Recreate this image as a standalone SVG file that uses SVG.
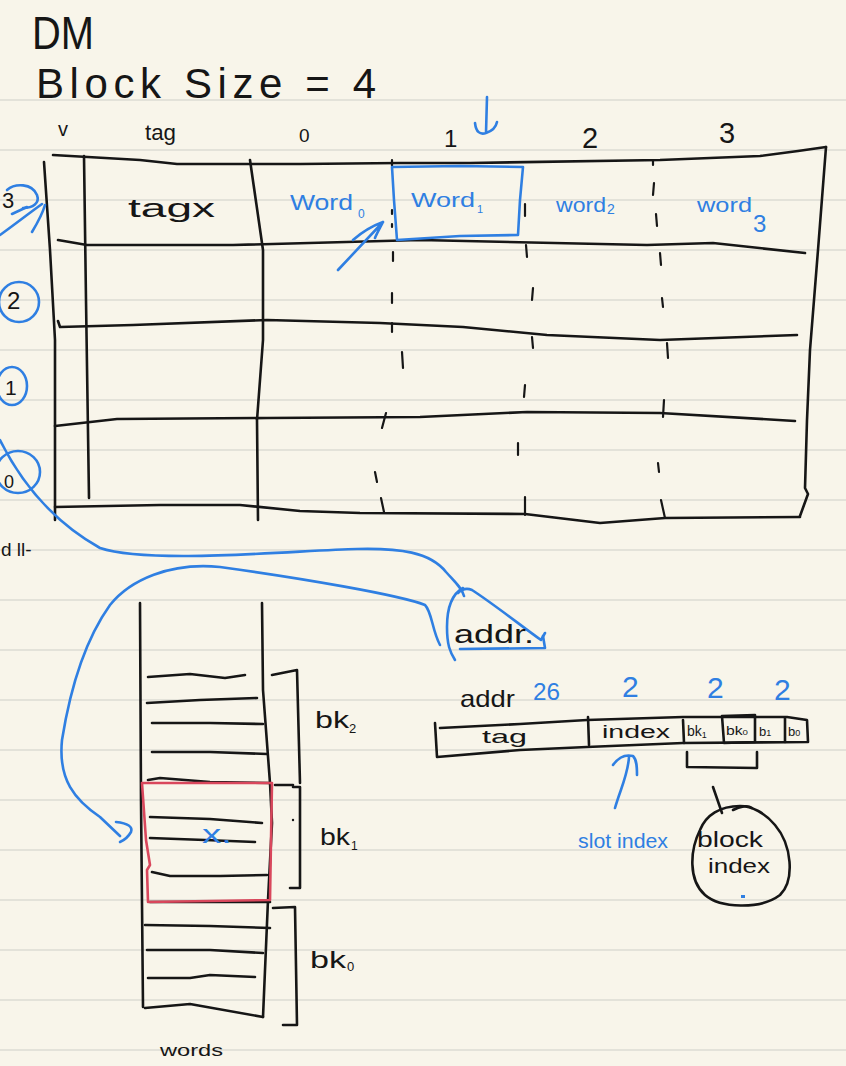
<svg xmlns="http://www.w3.org/2000/svg" width="846" height="1066" viewBox="0 0 846 1066">
<style>
.ink{fill:none;stroke:#161616;stroke-width:2.6;stroke-linecap:round;stroke-linejoin:round}
.thin{fill:none;stroke:#161616;stroke-width:2.2;stroke-linecap:round;stroke-linejoin:round}
.blue{fill:none;stroke:#2f7fe2;stroke-width:2.6;stroke-linecap:round;stroke-linejoin:round}
.red{fill:none;stroke:#d9475c;stroke-width:2.6;stroke-linecap:round;stroke-linejoin:round}
.rule{stroke:#dddbd3;stroke-width:1.5}
.t{font-family:"Liberation Sans","DejaVu Sans",sans-serif;fill:#161616}
.tb{font-family:"Liberation Sans","DejaVu Sans",sans-serif;fill:#2f7fe2}
</style>
<rect width="846" height="1066" fill="#f8f5ea"/>
<g id="rules">
<line class="rule" x1="0" y1="100" x2="846" y2="100"/><line class="rule" x1="0" y1="150" x2="846" y2="150"/>
<line class="rule" x1="0" y1="200" x2="846" y2="200"/><line class="rule" x1="0" y1="250" x2="846" y2="250"/>
<line class="rule" x1="0" y1="300" x2="846" y2="300"/><line class="rule" x1="0" y1="350" x2="846" y2="350"/>
<line class="rule" x1="0" y1="400" x2="846" y2="400"/><line class="rule" x1="0" y1="450" x2="846" y2="450"/>
<line class="rule" x1="0" y1="500" x2="846" y2="500"/><line class="rule" x1="0" y1="550" x2="846" y2="550"/>
<line class="rule" x1="0" y1="600" x2="846" y2="600"/><line class="rule" x1="0" y1="650" x2="846" y2="650"/>
<line class="rule" x1="0" y1="700" x2="846" y2="700"/><line class="rule" x1="0" y1="750" x2="846" y2="750"/>
<line class="rule" x1="0" y1="800" x2="846" y2="800"/><line class="rule" x1="0" y1="850" x2="846" y2="850"/>
<line class="rule" x1="0" y1="900" x2="846" y2="900"/><line class="rule" x1="0" y1="950" x2="846" y2="950"/>
<line class="rule" x1="0" y1="1000" x2="846" y2="1000"/><line class="rule" x1="0" y1="1050" x2="846" y2="1050"/>
</g>

<g id="title">
<text class="t" x="32" y="49" font-size="46" textLength="62" lengthAdjust="spacingAndGlyphs">DM</text>
<text class="t" x="36" y="98" font-size="42" textLength="340" lengthAdjust="spacing">Block Size = 4</text>
</g>

<g id="headers">
<text class="t" x="58" y="136" font-size="20">v</text>
<text class="t" x="145" y="140" font-size="22" textLength="31" lengthAdjust="spacingAndGlyphs">tag</text>
<text class="t" x="299" y="142" font-size="19">0</text>
<text class="t" x="444" y="147" font-size="24">1</text>
<text class="t" x="582" y="148" font-size="29">2</text>
<text class="t" x="719" y="143" font-size="29">3</text>
</g>

<g id="cache-table">
<path class="ink" d="M44,162 L50,250 L55,340 L55,520"/>
<path class="ink" d="M84,156 L86,300 L89,498"/>
<path class="ink" d="M53,155 L140,160 L177,164 L300,164 L400,163 L470,163 L660,160 L760,156 L798,151 L826,147"/>
<path class="ink" d="M826,147 L818,250 L810,350 L807,420 L805,488 L808,494 L800,516"/>
<path class="ink" d="M55,507 L160,505 L240,505 L300,511 L360,513 L525,514 L600,523 L665,518 L800,517"/>
<path class="ink" d="M58,240 L87,245 L233,245 L420,240 L647,245 L713,243 L805,253"/>
<path class="ink" d="M58,321 L60,327 L133,325 L267,320 L380,323 L463,327 L547,335 L660,340 L797,335"/>
<path class="ink" d="M55,426 L117,419 L267,418 L420,417 L527,412 L660,413 L795,421"/>
<path class="ink" d="M250,160 L263,250 L263,340 L257,420 L258,520"/>
<path class="thin" d="M392,160 L392,166 M392,210 L392,214 M392,224 L392,227 M393,252 L393,261 M392,293 L392,303 M392,323 L392,332 M402,352 L403,368 M386,413 L382,428 M375,472 L377,482 M381,498 L384,512"/>
<path class="thin" d="M525,204 L525,216 M526,245 L527,257 M533,288 L532,300 M532,337 L533,348 M525,385 L524,397 M518,443 L518,455 M525,497 L525,515"/>
<path class="thin" d="M653,161 L653,165 M654,183 L653,195 M656,214 L657,226 M660,253 L661,265 M662,298 L663,307 M667,343 L668,358 M664,400 L663,417 M658,463 L659,472 M661,500 L665,518"/>
<text class="t" x="128" y="217" font-size="25" textLength="87" lengthAdjust="spacingAndGlyphs">tagx</text>
<text class="tb" x="290" y="210" font-size="22" textLength="63" lengthAdjust="spacingAndGlyphs">Word</text>
<text class="tb" x="358" y="218" font-size="12">0</text>
<path class="blue" d="M392,167 L460,166 L523,167 L520,200 L518,235 L460,236 L397,240 L394,200 Z"/>
<text class="tb" x="411" y="207" font-size="21" textLength="64" lengthAdjust="spacingAndGlyphs">Word</text>
<text class="tb" x="477" y="213" font-size="11">1</text>
<text class="tb" x="556" y="212" font-size="20" textLength="50" lengthAdjust="spacingAndGlyphs">word</text>
<text class="tb" x="607" y="214" font-size="14">2</text>
<text class="tb" x="697" y="212" font-size="20" textLength="55" lengthAdjust="spacingAndGlyphs">word</text>
<text class="tb" x="753" y="232" font-size="24">3</text>
</g>

<g id="row-labels">
<text class="t" x="2" y="208" font-size="22">3</text>
<path class="blue" d="M7,190 C15,183 32,183 37,195 C40,203 33,208 23,208"/>
<ellipse class="blue" cx="19" cy="302" rx="20" ry="20"/>
<text class="t" x="7" y="309" font-size="24">2</text>
<ellipse class="blue" cx="12" cy="386" rx="15" ry="19"/>
<text class="t" x="5" y="395" font-size="21">1</text>
<ellipse class="blue" cx="18" cy="472" rx="22" ry="21"/>
<text class="t" x="4" y="488" font-size="18">0</text>
<text class="t" x="1" y="556" font-size="19">d ll-</text>
</g>

<g id="connectors">
<path class="blue" d="M0,235 C14,225 28,214 42,204 M12,214 L27,207 M32,232 C38,222 43,212 45,205"/>
<path class="blue" d="M487,97 L486,133 M475,123 C476,132 480,135 486,133 C492,131 496,127 497,122"/>
<path class="blue" d="M338,270 L383,222 M353,240 C362,232 372,226 383,222 C380,228 377,233 375,238"/>
<path class="blue" d="M0,440 C20,480 50,520 100,548 C150,565 300,550 357,549 C400,548 430,552 446,572 C455,582 462,588 464,596"/>
<path class="blue" d="M440,645 C432,630 432,612 425,605 C400,595 300,578 220,567 C170,562 130,580 110,605 C85,640 70,690 62,740 C58,780 75,800 100,817 L120,836"/>
<path class="blue" d="M116,822 Q134,824 131,832 Q127,839 120,842"/>
<path class="blue" d="M615,808 C620,790 628,775 629,757 M613,765 C618,758 625,754 633,756 C637,760 637,768 637,775"/>
<path class="ink" d="M713,787 L722,813 M733,810 C740,806 748,805 752,808"/>
</g>

<g id="addr-blob">
<path class="blue" d="M463,588 C452,594 447,606 447,627 C447,645 450,652 455,660"/>
<path class="blue" d="M458,593 C462,589 467,588 472,590 C495,605 520,625 541,640 L545,633"/>
<path class="blue" d="M460,649 L545,648 L543,636"/>
<text class="t" x="454" y="643" font-size="26" textLength="80" lengthAdjust="spacingAndGlyphs">addr.</text>
</g>

<g id="address-bar">
<text class="t" x="460" y="707" font-size="24" textLength="55" lengthAdjust="spacingAndGlyphs">addr</text>
<text class="tb" x="533" y="700" font-size="24" textLength="27" lengthAdjust="spacingAndGlyphs">26</text>
<text class="tb" x="622" y="697" font-size="30">2</text>
<text class="tb" x="707" y="698" font-size="30">2</text>
<text class="tb" x="774" y="700" font-size="30">2</text>
<path class="ink" d="M435,723 L437,757 M440,728 L520,724 L587,720 L683,717 L787,717 L807,720 L808,742 M437,757 L520,750 L587,747 L683,743 L807,742"/>
<path class="ink" d="M588,717 L589,745 M683,720 L684,743 M722,716 L755,715 L755,742 L724,743 Z M785,718 L785,742"/>
<text class="t" x="482" y="743" font-size="18" textLength="45" lengthAdjust="spacingAndGlyphs">tag</text>
<text class="t" x="602" y="738" font-size="18" textLength="68" lengthAdjust="spacingAndGlyphs">index</text>
<text class="t" x="687" y="736" font-size="14">bk<tspan font-size="9" dy="2">1</tspan></text>
<text class="t" x="726" y="735" font-size="13" textLength="22" lengthAdjust="spacingAndGlyphs">bk<tspan font-size="8">0</tspan></text>
<text class="t" x="759" y="736" font-size="13">b<tspan font-size="9">1</tspan></text>
<text class="t" x="788" y="736" font-size="13">b<tspan font-size="9">0</tspan></text>
<path class="ink" d="M687,752 L687,767 L757,768 L757,752"/>
<text class="tb" x="578" y="848" font-size="20" textLength="90" lengthAdjust="spacingAndGlyphs">slot index</text>
</g>

<g id="block-index">
<path class="ink" d="M700,830 C690,850 688,880 705,895 C720,908 760,910 780,895 C795,880 792,845 775,825 C765,813 752,806 740,806 C720,806 706,815 700,830 Z"/>
<text class="t" x="697" y="847" font-size="22" textLength="66" lengthAdjust="spacingAndGlyphs">block</text>
<text class="t" x="708" y="873" font-size="20" textLength="62" lengthAdjust="spacingAndGlyphs">index</text>
<rect x="741" y="895" width="4" height="3" fill="#2f7fe2"/>
</g>

<g id="words-column">
<path class="ink" d="M140,603 L141,800 L143,1007"/>
<path class="ink" d="M262,603 L263,690 L270,783 L272,823 L268,900 L263,1017"/>
<path class="ink" d="M148,677 L190,674 L225,678 L245,675"/>
<path class="ink" d="M147,703 L200,700 L257,698"/>
<path class="ink" d="M152,723 L210,723 L263,724"/>
<path class="ink" d="M152,752 L210,752 L267,754"/>
<path class="ink" d="M148,780 L160,778 L210,782 L270,783"/>
<path class="ink" d="M150,817 L210,819 L262,823"/>
<path class="ink" d="M150,838 L205,840 L255,842"/>
<path class="ink" d="M152,872 L170,876 L220,876 L267,875"/>
<path class="ink" d="M150,902 L270,902"/>
<path class="ink" d="M145,925 L210,926 L270,928"/>
<path class="ink" d="M147,950 L210,950 L263,953"/>
<path class="ink" d="M148,978 L190,978 L210,975 L255,977"/>
<path class="ink" d="M145,1008 L190,1004 L263,1017"/>
<path class="red" d="M142,783 L210,783 L272,783 L271,840 L270,900 L148,902 L147,870 L150,865 L146,840 L142,783"/>
<text class="tb" x="202" y="843" font-size="26" textLength="30" lengthAdjust="spacingAndGlyphs">x.</text>
<path class="ink" d="M272,675 L297,670 L300,783 M275,785 L293,785"/>
<path class="ink" d="M293,787 L300,787 L300,888 L290,888"/>
<circle cx="293" cy="820" r="1.2" fill="#161616"/>
<path class="ink" d="M273,908 L295,907 L297,1025 L283,1025"/>
<text class="t" x="315" y="728" font-size="24" textLength="34" lengthAdjust="spacingAndGlyphs">bk</text>
<text class="t" x="349" y="733" font-size="13">2</text>
<text class="t" x="320" y="845" font-size="24" textLength="30" lengthAdjust="spacingAndGlyphs">bk</text>
<text class="t" x="351" y="850" font-size="12">1</text>
<text class="t" x="310" y="968" font-size="24" textLength="36" lengthAdjust="spacingAndGlyphs">bk</text>
<text class="t" x="347" y="971" font-size="13">0</text>
<text class="t" x="160" y="1056" font-size="16" textLength="63" lengthAdjust="spacingAndGlyphs">words</text>
</g>
</svg>
